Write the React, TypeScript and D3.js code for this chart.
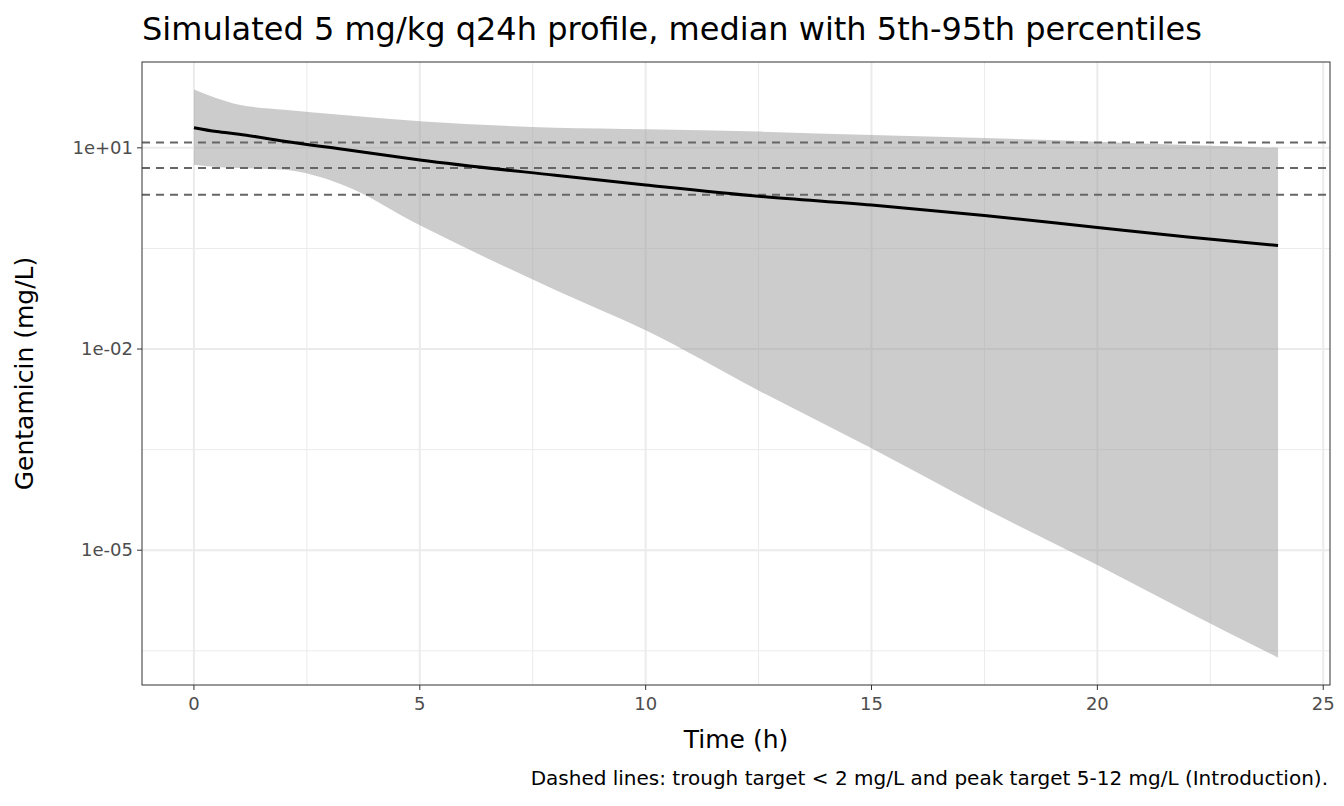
import * as d3 from 'd3';

// time grid (h)
const times = [0, 0.5, 1, 2, 3.3, 5, 8, 10, 12.5, 15, 17.5, 20, 22, 24];
// median concentration (mg/L)
const median = [20, 17.5, 16, 12.5, 9.5, 6.6, 3.9, 2.8, 1.9, 1.4, 0.98, 0.65, 0.47, 0.35];
// 5th and 95th percentiles
const lower = [5.6, 5.2, 5.0, 4.7, 2.8, 0.7, 0.076, 0.019, 0.0024, 0.00033, 0.000042, 0.000006, 0.0000012, 0.00000025];
const upper = [74, 55, 44, 37, 31, 25, 20, 19, 17.5, 15.5, 14, 12.3, 11, 10];
const targets = [2, 5, 12];
const xTicks = [0, 5, 10, 15, 20, 25];
const yTicks = [1e1, 1e-2, 1e-5];
const yMinor = [10 ** -0.5, 10 ** -3.5, 10 ** -6.5];
const xMinor = [2.5, 7.5, 12.5, 17.5, 22.5];

export default function App() {
  const W = 1344, H = 806;
  const L = 142, R = 1330, T = 62, B = 685;
  const x = d3.scaleLinear().domain([-1.15, 25.15]).range([L, R]);
  const y = d3.scaleLog().domain([10 ** -7.01, 10 ** 2.28]).range([B, T]);
  const idx = times.map((_, i) => i);
  const area = d3.area<number>().x(i => x(times[i])).y0(i => y(lower[i])).y1(i => y(upper[i])).curve(d3.curveMonotoneX);
  const line = d3.line<number>().x(i => x(times[i])).y(i => y(median[i])).curve(d3.curveMonotoneX);
  const fmt = (v: number) => v.toExponential(0).replace(/e([+-])(\d)$/, 'e$10$2');
  const font = "'DejaVu Sans', sans-serif";
  return (
    <svg width={W} height={H} style={{ position: 'absolute', left: 0, top: 0 }} fontFamily={font}>
      <rect width={W} height={H} fill="#fff" />
      {xMinor.map(v => <line key={'xm' + v} x1={x(v)} x2={x(v)} y1={T} y2={B} stroke="#ebebeb" strokeWidth={1} />)}
      {yMinor.map(v => <line key={'ym' + v} x1={L} x2={R} y1={y(v)} y2={y(v)} stroke="#ebebeb" strokeWidth={1} />)}
      {xTicks.map(v => <line key={'xg' + v} x1={x(v)} x2={x(v)} y1={T} y2={B} stroke="#ebebeb" strokeWidth={2} />)}
      {yTicks.map(v => <line key={'yg' + v} x1={L} x2={R} y1={y(v)} y2={y(v)} stroke="#ebebeb" strokeWidth={2} />)}
      <path d={area(idx) ?? ''} fill="#999" fillOpacity={0.5} />
      {targets.map(v => <line key={'t' + v} x1={L} x2={R} y1={y(v)} y2={y(v)} stroke="#666" strokeWidth={2} strokeDasharray="8,6" />)}
      <path d={line(idx) ?? ''} fill="none" stroke="#000" strokeWidth={3} />
      <rect x={L} y={T} width={R - L} height={B - T} fill="none" stroke="#333" strokeWidth={1} />
      {xTicks.map(v => (
        <g key={'xt' + v}>
          <line x1={x(v)} x2={x(v)} y1={B} y2={B + 5} stroke="#333" />
          <text x={x(v)} y={B + 25} textAnchor="middle" fontSize={18} fill="#4d4d4d">{v}</text>
        </g>
      ))}
      {yTicks.map(v => (
        <g key={'yt' + v}>
          <line x1={L - 5} x2={L} y1={y(v)} y2={y(v)} stroke="#333" />
          <text x={L - 9} y={y(v) + 6} textAnchor="end" fontSize={18} fill="#4d4d4d">{fmt(v)}</text>
        </g>
      ))}
      <text x={(L + R) / 2} y={748} textAnchor="middle" fontSize={25}>Time (h)</text>
      <text transform={`translate(33,${(T + B) / 2}) rotate(-90)`} textAnchor="middle" fontSize={25}>Gentamicin (mg/L)</text>
      <text x={L} y={40} fontSize={32}>Simulated 5 mg/kg q24h profile, median with 5th-95th percentiles</text>
      <text x={1328} y={785} textAnchor="end" fontSize={20}>Dashed lines: trough target &lt; 2 mg/L and peak target 5-12 mg/L (Introduction).</text>
    </svg>
  );
}
